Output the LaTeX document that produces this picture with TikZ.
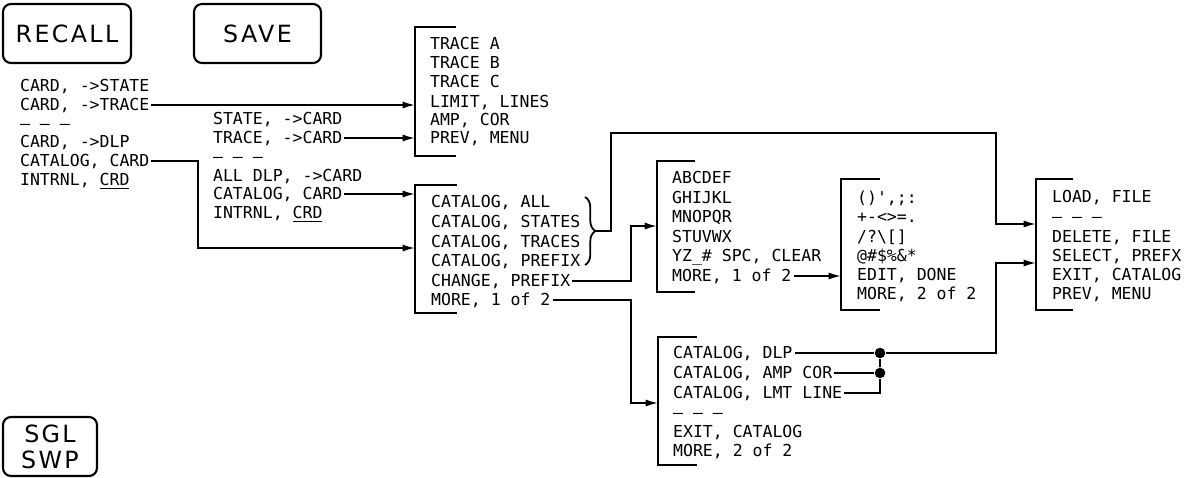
\documentclass[tikz,border=0pt]{standalone}
\usepackage{fontspec}
\usepackage{tikz}
\usetikzlibrary{arrows.meta, positioning, decorations.pathreplacing}
\newfontfamily\plotfont{DejaVu Sans Mono}
\newfontfamily\keyfont[LetterSpace=10]{DejaVu Sans}

\begin{document}
\begin{tikzpicture}[x=0.02cm, y=-0.02cm,
	item/.style={font=\plotfont\fontsize{9.4}{10}\selectfont, anchor=west, inner sep=1pt, text height=6.8pt, text depth=0pt},
	key/.style={draw, line width=1.2pt, rounded corners=4.5pt, font=\keyfont\fontsize{13.5}{14.7}\selectfont, align=center, inner sep=0pt, minimum height=1.18cm},
	menu/.style={line width=1.2pt},
	wire/.style={line width=1pt},
	arr/.style={wire, -{Latex[length=7pt, width=4pt]}},
	jdot/.style={circle, fill, inner sep=0pt, minimum size=6pt}]
				\useasboundingbox (0,0) rectangle (1186,477);
				% Keys:
				\node[key, minimum width=2.56cm] (recall) at (67,33.5){RECALL};
				\node[key, minimum width=2.54cm] (save) at (257.5,33.5){SAVE};
				\node[key, minimum width=1.88cm] (sglswp) at (50,446.5){SGL\\SWP};
				
				% RECALL softkeys:
				\node[item] (rcl1) at (18,86){CARD, ->STATE};
				\node[item] (rcl2) at (18,105){CARD, ->TRACE};
				\node[item] (rcl3) at (18,124){– – –};
				\node[item] (rcl4) at (18,142){CARD, ->DLP};
				\node[item] (rcl5) at (18,161){CATALOG, CARD};
				\node[item] (rcl6) at (18,180){INTRNL, \underline{CRD}};
				
				% SAVE softkeys:
				\node[item] (sav1) at (211,119){STATE, ->CARD};
				\node[item] (sav2) at (211,138){TRACE, ->CARD};
				\node[item] (sav3) at (211,157){– – –};
				\node[item] (sav4) at (211,176){ALL DLP, ->CARD};
				\node[item] (sav5) at (211,194){CATALOG, CARD};
				\node[item] (sav6) at (211,213){INTRNL, \underline{CRD}};
				
				% Trace menu:
				\coordinate (trcL) at (415,27);
				\draw[menu] (456,27) -- (trcL) -- (415,156) -- (456,156);
				\node[item] (trc1) at (428,44){TRACE A};
				\node[item] (trc2) at (428,63){TRACE B};
				\node[item] (trc3) at (428,82){TRACE C};
				\node[item] (trc4) at (428,102){LIMIT, LINES};
				\node[item] (trc5) at (428,120){AMP, COR};
				\node[item] (trc6) at (428,138){PREV, MENU};
				
				% Catalog menu, 1 of 2:
				\coordinate (catL) at (415,185);
				\draw[menu] (457,185) -- (catL) -- (415,313) -- (457,313);
				\node[item] (cat1) at (429,202){CATALOG, ALL};
				\node[item] (cat2) at (429,222){CATALOG, STATES};
				\node[item] (cat3) at (429,242){CATALOG, TRACES};
				\node[item] (cat4) at (429,261){CATALOG, PREFIX};
				\node[item] (cat5) at (429,281){CHANGE, PREFIX};
				\node[item] (cat6) at (429,300){MORE, 1 of 2};
				\draw[wire, decorate, decoration={brace, amplitude=6pt}] (585,197) -- (585,265);
				\coordinate (brc) at (596,231);
				
				% Prefix letters:
				\coordinate (abcL) at (657,161);
				\draw[menu] (695,161) -- (abcL) -- (657,292) -- (695,292);
				\node[item] (abc1) at (670,178){ABCDEF};
				\node[item] (abc2) at (670,198){GHIJKL};
				\node[item] (abc3) at (670,217){MNOPQR};
				\node[item] (abc4) at (670,237){STUVWX};
				\node[item] (abc5) at (670,256){YZ\_\# SPC, CLEAR};
				\node[item] (abc6) at (670,276){MORE, 1 of 2};
				
				% Prefix symbols:
				\coordinate (symL) at (841,179);
				\draw[menu] (880,179) -- (symL) -- (841,310) -- (880,310);
				\node[item] (sym1) at (855,198){()',;:};
				\node[item] (sym2) at (855,217){+-<>=.};
				\node[item] (sym3) at (855,237){/?\textbackslash[]};
				\node[item] (sym4) at (855,256){@\#\$\%\&*};
				\node[item] (sym5) at (855,275){EDIT, DONE};
				\node[item] (sym6) at (855,294){MORE, 2 of 2};
				
				% Load menu:
				\coordinate (lodL) at (1036,179);
				\draw[menu] (1073,179) -- (lodL) -- (1036,310) -- (1073,310);
				\node[item] (lod1) at (1050,197){LOAD, FILE};
				\node[item] (lod2) at (1050,217){– – –};
				\node[item] (lod3) at (1050,237){DELETE, FILE};
				\node[item] (lod4) at (1050,256){SELECT, PREFX};
				\node[item] (lod5) at (1050,275){EXIT, CATALOG};
				\node[item] (lod6) at (1050,294){PREV, MENU};
				
				% Catalog menu, 2 of 2:
				\coordinate (ct2L) at (658,337);
				\draw[menu] (697,337) -- (ct2L) -- (658,465) -- (697,465);
				\node[item] (ct1) at (671,353){CATALOG, DLP};
				\node[item] (ct2) at (671,373){CATALOG, AMP COR};
				\node[item] (ct3) at (671,393){CATALOG, LMT LINE};
				\node[item] (ct4) at (671,413){– – –};
				\node[item] (ct5) at (671,432){EXIT, CATALOG};
				\node[item] (ct6) at (671,451){MORE, 2 of 2};
				\node[jdot] (j1) at (880,353){};
				\node[jdot] (j2) at (880,373){};
				
				% Wires:
				\draw[arr] (rcl2.east) -- (rcl2.east -| trcL);
				\draw[arr] (sav2.east) -- (sav2.east -| trcL);
				\draw[arr] (rcl5.east) -| (198,248) -- (catL |- 0,248);
				\draw[arr] (sav5.east) -- (sav5.east -| catL);
				\draw[arr] (cat5.east) -| (631,226) -- (abcL |- 0,226);
				\draw[arr] (cat6.east) -| (631,403) -- (ct2L |- 0,403);
				\draw[arr] (abc6.east) -- (abc6.east -| symL);
				\draw[arr] (brc) -- (611,231) |- (996,133) -- (996,224) -- (lodL |- 0,224);
				\draw[arr] (ct1.east) -- (j1) -| (996,263) -- (lodL |- 0,263);
				\draw[wire] (ct2.east) -- (j2);
				\draw[wire] (ct3.east) -| (j2);
				\draw[wire] (j2) -- (j1);
			\end{tikzpicture}
\end{document}
